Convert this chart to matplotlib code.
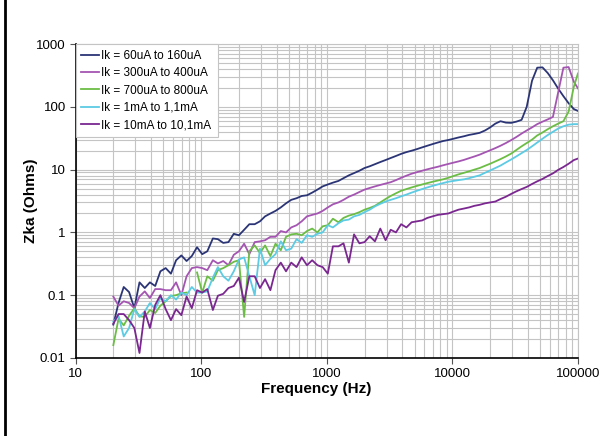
import numpy as np
import matplotlib
matplotlib.use("Agg")
import matplotlib.pyplot as plt
from matplotlib.lines import Line2D
from matplotlib.ticker import FixedLocator, FixedFormatter, LogLocator, NullFormatter

plt.rcParams['font.family'] = ['Liberation Sans', 'DejaVu Sans']

# frequency points (Hz)
freq = [20, 22.0, 24.2, 26.7, 29.4, 32.3, 35.6, 39.1, 43.1, 47.4,
        52.2, 57.5, 63.2, 69.6, 76.6, 84.3, 92.8, 102, 112, 124,
        136, 150, 165, 182, 200, 220, 242, 267, 294, 323,
        356, 391, 431, 474, 522, 575, 632, 696, 766, 843,
        928, 1020, 1120, 1240, 1360, 1500, 1650, 1820, 2000, 2200,
        2420, 2670, 2940, 3230, 3560, 3910, 4310, 4740, 5220, 5750,
        6320, 6960, 7660, 8430, 9280, 10200, 11200, 12400, 13600, 15000,
        16500, 18200, 20000, 22000, 24200, 26700, 29400, 32300, 35600, 39100,
        43100, 47400, 52200, 57500, 63200, 69600, 76600, 84300, 92800, 100000]

z_60u = [0.034, 0.075, 0.135, 0.112, 0.062, 0.16, 0.13, 0.16, 0.14, 0.24,
         0.27, 0.22, 0.36, 0.43, 0.35, 0.42, 0.58, 0.45, 0.5, 0.8,
         0.78, 0.68, 0.7, 0.95, 0.9, 1.1, 1.35, 1.35, 1.5, 1.8,
         2.0, 2.2, 2.5, 2.9, 3.3, 3.5, 3.8, 3.9, 4.3, 4.8,
         5.4, 5.8, 6.2, 6.6, 7.3, 8.1, 8.8, 9.6, 10.6, 11.3,
         12.2, 13.2, 14.2, 15.3, 16.5, 17.8, 19.0, 20.0, 21.2, 22.6,
         24.0, 25.5, 27.0, 28.5, 29.6, 31.0, 32.5, 34.0, 35.7, 37.0,
         38.5, 42, 47, 54, 59, 56, 55.5, 58, 62, 100,
         260, 420, 425, 345, 265, 195, 148, 114, 92, 86]

z_300u = [0.095, 0.068, 0.08, 0.075, 0.062, 0.095, 0.115, 0.09, 0.125, 0.125,
          0.12, 0.12, 0.16, 0.1, 0.2, 0.27, 0.28, 0.27, 0.25, 0.36,
          0.32, 0.35, 0.3, 0.44, 0.5, 0.66, 0.45, 0.7, 0.72, 0.75,
          0.85, 0.85, 1.05, 1.0, 1.2, 1.3, 1.5, 1.8, 1.9, 2.0,
          2.2, 2.5, 2.8, 3.0, 3.3, 3.7, 4.0, 4.4, 4.8, 5.1,
          5.4, 5.7, 6.0, 6.3, 6.8, 7.4, 8.0, 8.6, 9.1, 9.6,
          10.1, 10.6, 11.1, 11.7, 12.3, 12.9, 13.5, 14.3, 15.2, 16.2,
          17.3, 18.8, 20.3, 22, 24, 26.5, 29.5, 33, 37.5, 42,
          47, 53, 58, 63, 69, 170, 420, 430, 250, 197]

z_700u = [0.016, 0.042, 0.033, 0.047, 0.062, 0.046, 0.045, 0.058, 0.052, 0.068,
          0.08, 0.097, 0.1, 0.107, 0.11, np.nan, 0.23, 0.11, 0.2, 0.17,
          0.25, 0.27, 0.3, 0.34, 0.36, 0.045, 0.5, 0.62, 0.47, 0.62,
          0.42, 0.66, 0.52, 0.85, 0.93, 0.95, 0.9, 1.05, 1.15, 1.0,
          1.25, 1.3, 1.65, 1.45, 1.7, 1.85, 1.95, 2.1, 2.3, 2.45,
          2.65, 3.0, 3.4, 3.8, 4.2, 4.6, 4.9, 5.2, 5.5, 5.8,
          6.1, 6.4, 6.7, 7.0, 7.4, 7.9, 8.4, 8.9, 9.4, 10.0,
          10.6, 11.5, 12.4, 13.5, 14.7, 16.2, 18.0, 20.5, 23.5, 26.5,
          30, 35, 39, 44, 49, 54, 59, 84, 210, 340]

z_1m = [0.038, 0.047, 0.022, 0.03, 0.06, 0.045, 0.055, 0.075, 0.06, 0.09,
        0.08, 0.1, 0.085, 0.11, 0.1, 0.135, 0.11, 0.11, 0.115, 0.19,
        0.28, 0.2, 0.17, 0.24, 0.37, 0.4, 0.2, 0.1, 0.55, 0.3,
        0.38, 0.45, 0.72, 0.52, 0.55, 0.78, 0.68, 0.9, 0.85, 0.95,
        1.0, 1.3, 1.2, 1.4, 1.55, 1.6, 1.8, 1.9, 2.1, 2.3,
        2.6, 2.85, 3.1, 3.3, 3.5, 3.75, 4.0, 4.3, 4.6, 4.9,
        5.2, 5.5, 5.8, 6.1, 6.4, 6.6, 6.8, 7.0, 7.3, 7.7,
        8.1, 8.9, 9.7, 10.6, 11.6, 13.0, 14.5, 16.2, 18.3, 20.5,
        23.5, 27, 31, 35.5, 40, 45, 49, 52, 53, 53]

z_10m = [0.035, 0.05, 0.05, 0.04, 0.03, 0.012, 0.055, 0.03, 0.07, 0.1,
         0.06, 0.04, 0.06, 0.048, 0.095, 0.062, 0.12, 0.11, 0.125, 0.058,
         0.098, 0.105, 0.13, 0.14, 0.19, 0.078, 0.2, 0.2, 0.13, 0.18,
         0.12, 0.25, 0.33, 0.24, 0.33, 0.28, 0.4, 0.3, 0.36, 0.3,
         0.28, 0.22, 0.6, 0.6, 0.67, 0.33, 0.93, 0.67, 0.7, 0.87,
         0.72, 1.15, 0.75, 1.1, 1.0, 1.35, 1.2, 1.45, 1.5, 1.55,
         1.7, 1.8, 1.9, 1.95, 2.0, 2.15, 2.3, 2.4, 2.5, 2.65,
         2.75, 2.9, 3.0, 3.1, 3.4, 3.7, 4.1, 4.5, 4.9, 5.3,
         5.9, 6.5, 7.1, 7.9, 8.7, 9.9, 11.0, 12.4, 14.2, 15.0]

labels = ['Ik = 60uA to 160uA', 'Ik = 300uA to 400uA', 'Ik = 700uA to 800uA',
          'Ik = 1mA to 1,1mA', 'Ik = 10mA to 10,1mA']
colors = ['#2b3576', '#a455b2', '#6cbd45', '#5ccbe3', '#7a2790']

x_ticks = [10, 100, 1000, 10000, 100000]
x_ticklabels = ['10', '100', '1000', '10000', '100000']
y_ticks = [0.01, 0.1, 1, 10, 100, 1000]
y_ticklabels = ['0.01', '0.1', '1', '10', '100', '1000']

fig = plt.figure(figsize=(6.09, 4.36), dpi=100)
ax = fig.add_axes([0.124, 0.179, 0.825, 0.720])

series = [z_60u, z_300u, z_700u, z_1m, z_10m]
for z, lab, col in zip(series, labels, colors):
    ax.plot(freq, z, color=col, lw=1.3, label=lab)

ax.set_xscale('log')
ax.set_yscale('log')
ax.set_xlim(10, 100000)
ax.set_ylim(0.01, 1000)

ax.xaxis.set_major_locator(FixedLocator(x_ticks))
ax.xaxis.set_major_formatter(FixedFormatter(x_ticklabels))
ax.yaxis.set_major_locator(FixedLocator(y_ticks))
ax.yaxis.set_major_formatter(FixedFormatter(y_ticklabels))
ax.xaxis.set_minor_locator(LogLocator(base=10, subs=np.arange(2, 10), numticks=20))
ax.yaxis.set_minor_locator(LogLocator(base=10, subs=np.arange(2, 10), numticks=20))
ax.xaxis.set_minor_formatter(NullFormatter())
ax.yaxis.set_minor_formatter(NullFormatter())

ax.grid(True, which='both', color='#c4c4c4', lw=0.8)
ax.set_axisbelow(True)
ax.tick_params(which='major', length=4, width=0.8, color='#555555', labelsize=9.5, pad=3)
ax.tick_params(which='minor', length=0)

for s in ['top', 'right']:
    ax.spines[s].set_color('#c4c4c4')
    ax.spines[s].set_linewidth(0.8)
for s in ['left', 'bottom']:
    ax.spines[s].set_color('black')
    ax.spines[s].set_linewidth(1.2)

ax.set_xlabel('Frequency (Hz)', fontsize=11, fontweight='bold')
ax.set_ylabel('Zka (Ohms)', fontsize=11, fontweight='bold')
ax.xaxis.set_label_coords(0.48, -0.075)
ax.yaxis.set_label_coords(-0.075, 0.5)

leg = ax.legend(loc='upper left', bbox_to_anchor=(0, 1), borderaxespad=0,
                fontsize=8.5, handlelength=1.5, handletextpad=0.2,
                labelspacing=0.45, borderpad=0.5, fancybox=False,
                framealpha=1, edgecolor='#c4c4c4')
leg.get_frame().set_linewidth(0.8)

fig.add_artist(Line2D([0.0088, 0.0088], [0, 1], transform=fig.transFigure,
                      color='black', lw=2))

fig.savefig('out.png', dpi=100)
